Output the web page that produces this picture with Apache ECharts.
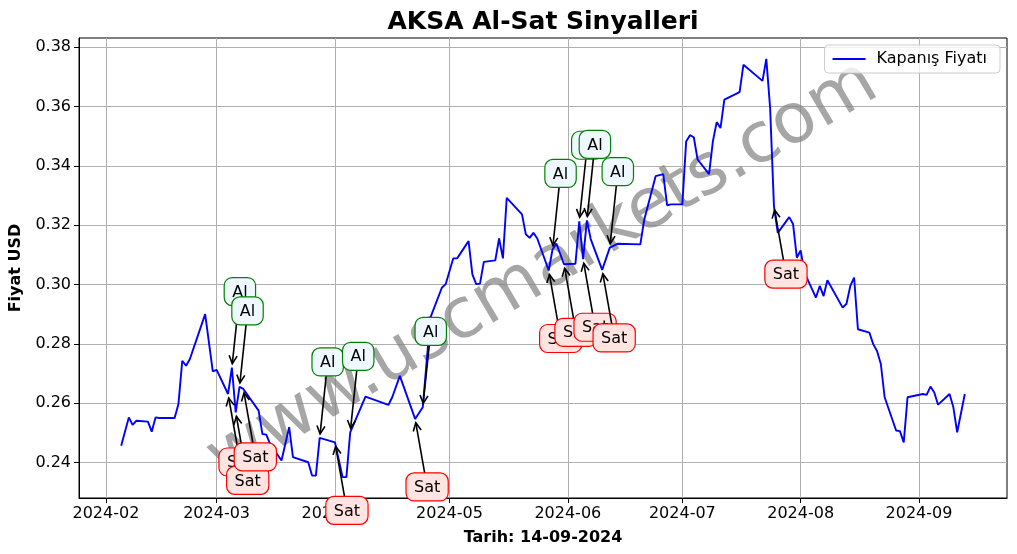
<!DOCTYPE html>
<html><head><meta charset="utf-8">
<script src="https://cdn.jsdelivr.net/npm/echarts@6/dist/echarts.min.js"></script>
<style>html,body{margin:0;padding:0;background:#fff}#c{width:1017px;height:554px}</style>
</head><body><div id="c"></div>
<script>
// ---- data ----
const dates = [
'2024-02-05','2024-02-07','2024-02-08','2024-02-09','2024-02-12','2024-02-13','2024-02-14','2024-02-15','2024-02-19','2024-02-20',
'2024-02-21','2024-02-22','2024-02-23','2024-02-27','2024-02-29','2024-03-01','2024-03-04','2024-03-05','2024-03-06','2024-03-07',
'2024-03-08','2024-03-12','2024-03-13','2024-03-14','2024-03-15','2024-03-18','2024-03-20','2024-03-21','2024-03-25','2024-03-26',
'2024-03-27','2024-03-28','2024-04-01','2024-04-03','2024-04-04','2024-04-05','2024-04-09','2024-04-15','2024-04-16','2024-04-18',
'2024-04-22','2024-04-24','2024-04-26','2024-04-29','2024-04-30','2024-05-02','2024-05-03','2024-05-06','2024-05-07','2024-05-08',
'2024-05-09','2024-05-10','2024-05-13','2024-05-14','2024-05-15','2024-05-16','2024-05-20','2024-05-21','2024-05-22','2024-05-23',
'2024-05-24','2024-05-27','2024-05-28','2024-05-29','2024-05-31','2024-06-03','2024-06-04','2024-06-05','2024-06-06','2024-06-07',
'2024-06-10','2024-06-12','2024-06-14','2024-06-20','2024-06-21','2024-06-24','2024-06-26','2024-06-27','2024-06-28','2024-07-01',
'2024-07-02','2024-07-03','2024-07-04','2024-07-05','2024-07-08','2024-07-09','2024-07-10','2024-07-11','2024-07-12','2024-07-16',
'2024-07-17','2024-07-22','2024-07-23','2024-07-24','2024-07-25','2024-07-26','2024-07-29','2024-07-30','2024-07-31','2024-08-01',
'2024-08-02','2024-08-05','2024-08-06','2024-08-07','2024-08-08','2024-08-12','2024-08-13','2024-08-14','2024-08-15','2024-08-16',
'2024-08-19','2024-08-20','2024-08-21','2024-08-22','2024-08-23','2024-08-26','2024-08-27','2024-08-28','2024-08-29','2024-09-02',
'2024-09-03','2024-09-04','2024-09-05','2024-09-06','2024-09-09','2024-09-10','2024-09-11','2024-09-13'
];
const closes = [
0.2457,0.2552,0.2527,0.2541,0.2538,0.2504,0.2552,0.2550,0.2550,0.2597,
0.2743,0.2726,0.2749,0.2900,0.2707,0.2712,0.2631,0.2720,0.2569,0.2655,
0.2648,0.2575,0.2496,0.2494,0.2463,0.2407,0.2519,0.2418,0.2401,0.2356,
0.2356,0.2483,0.2468,0.2351,0.2351,0.2502,0.2622,0.2594,0.2620,0.2692,
0.2547,0.2586,0.2888,0.2989,0.3001,0.3088,0.3088,0.3146,0.3034,0.3001,
0.3003,0.3076,0.3081,0.3155,0.3088,0.3292,0.3236,0.3169,0.3157,0.3174,
0.3155,0.3047,0.3118,0.3138,0.3068,0.3070,0.3213,0.3085,0.3216,0.3153,
0.3049,0.3124,0.3137,0.3135,0.3217,0.3365,0.3372,0.3267,0.3270,0.3270,
0.3482,0.3503,0.3496,0.3421,0.3372,0.3482,0.3547,0.3527,0.3623,0.3648,
0.3740,0.3686,0.3760,0.3594,0.3264,0.3174,0.3227,0.3204,0.3090,0.3115,
0.3040,0.2956,0.2995,0.2961,0.3014,0.2922,0.2935,0.2995,0.3023,0.2849,
0.2838,0.2799,0.2776,0.2732,0.2620,0.2508,0.2506,0.2468,0.2620,0.2631,
0.2628,0.2656,0.2636,0.2595,0.2631,0.2586,0.2502,0.2631
];
const buyDates  = ['2024-03-05','2024-03-07','2024-03-28','2024-04-05','2024-04-24','2024-05-28','2024-06-04','2024-06-06','2024-06-12'];
const sellDates = ['2024-03-04','2024-03-06','2024-03-08','2024-04-01','2024-04-22','2024-05-27','2024-05-31','2024-06-05','2024-06-10','2024-07-25'];
const xTickDates = ['2024-02-01','2024-03-01','2024-04-01','2024-05-01','2024-06-01','2024-07-01','2024-08-01','2024-09-01'];
const yTicks = [0.24,0.26,0.28,0.30,0.32,0.34,0.36,0.38];
const titleText = 'AKSA Al-Sat Sinyalleri';
const xName = 'Tarih: 14-09-2024';
const yName = 'Fiyat USD';
const seriesName = 'Kapanış Fiyatı';
const watermark = 'www.uscmarkets.com';

// ---- build ----
const ts = s => Date.parse(s + 'T00:00:00Z');
const lineData = dates.map((d, i) => [ts(d), closes[i]]);
const priceOf = d => closes[dates.indexOf(d)];
const annData = [];
buyDates.forEach(d => annData.push([ts(d), priceOf(d), 1]));
sellDates.forEach(d => annData.push([ts(d), priceOf(d), 0]));

const tMin = ts(dates[0]), tMax = ts(dates[dates.length - 1]);
const xPad = (tMax - tMin) * 0.05;
const vMin = Math.min(...closes), vMax = Math.max(...closes);
const yPad = (vMax - vMin) * 0.05;

const FONT = '"DejaVu Sans", sans-serif';
const mctx = document.createElement('canvas').getContext('2d');
mctx.font = '16px ' + FONT;

const GRID = {left: 77, right: 10, top: 38, bottom: 56};
const plotCenterX = GRID.left + (1017 - GRID.left - GRID.right) / 2;

const chart = echarts.init(document.getElementById('c'), null, {renderer: 'canvas'});
chart.setOption({
  animation: false,
  backgroundColor: '#fff',
  textStyle: {fontFamily: FONT},
  title: {
    text: titleText, left: plotCenterX - 4, textAlign: 'center', top: 5,
    textStyle: {fontFamily: FONT, fontSize: 25, fontWeight: 'bold', color: '#000'}
  },
  legend: {
    data: [seriesName], right: 17, top: 45, orient: 'vertical',
    icon: 'rect', itemWidth: 33, itemHeight: 2, itemGap: 0,
    padding: [6, 13, 6, 8],
    borderColor: '#cccccc', borderWidth: 1, borderRadius: 4,
    backgroundColor: 'rgba(255,255,255,0.8)',
    textStyle: {fontFamily: FONT, fontSize: 16, color: '#000', padding: [0, 0, 0, 6]}
  },
  grid: Object.assign({show: true, borderColor: '#000', borderWidth: 1, backgroundColor: 'transparent'}, GRID),
  graphic: [{
    type: 'text', x: 543, y: 272, rotation: 30.5 * Math.PI / 180, z: 1,
    style: {text: watermark, x: 0, y: 0, align: 'center', verticalAlign: 'middle',
      font: '70px ' + FONT, fill: 'rgba(128,128,128,0.7)'}
  }],
  xAxis: {
    type: 'value', min: tMin - xPad, max: tMax + xPad,
    name: xName, nameLocation: 'middle', nameGap: 32,
    nameTextStyle: {fontFamily: FONT, fontSize: 16, fontWeight: 'bold', color: '#000'},
    axisLine: {show: true, lineStyle: {color: '#000', width: 1}},
    axisTick: {show: true, length: 5, inside: false, lineStyle: {color: '#000'}, customValues: xTickDates.map(ts)},
    axisLabel: {customValues: xTickDates.map(ts), fontSize: 16, color: '#000', margin: 8, fontFamily: FONT,
      formatter: v => { const d = new Date(v); return d.getUTCFullYear() + '-' + String(d.getUTCMonth() + 1).padStart(2, '0'); }},
    splitLine: {show: true, lineStyle: {color: '#b0b0b0', width: 1}}
  },
  yAxis: {
    type: 'value', min: vMin - yPad, max: vMax + yPad,
    name: yName, nameLocation: 'middle', nameGap: 55, nameRotate: 90,
    nameTextStyle: {fontFamily: FONT, fontSize: 16, fontWeight: 'bold', color: '#000'},
    axisLine: {show: true, lineStyle: {color: '#000', width: 1}},
    axisTick: {show: true, length: 5, lineStyle: {color: '#000'}, customValues: yTicks},
    axisLabel: {customValues: yTicks, fontSize: 16, color: '#000', margin: 8, fontFamily: FONT,
      formatter: v => v.toFixed(2)},
    splitLine: {show: true, lineStyle: {color: '#b0b0b0', width: 1}}
  },
  series: [
    {
      name: seriesName, type: 'line', data: lineData, showSymbol: false, symbol: 'none',
      lineStyle: {color: '#0000ff', width: 1.9}, itemStyle: {color: '#0000ff'}, z: 3
    },
    {
      name: 'signals', type: 'custom', data: annData, z: 5, clip: false,
      encode: {x: 0, y: 1},
      renderItem: (params, api) => {
        const p = api.coord([api.value(0), api.value(1)]);
        const buy = api.value(2) === 1;
        const text = buy ? 'Al' : 'Sat';
        const cx = p[0] + (buy ? 8 : 12);
        const cy = p[1] + (buy ? -76 : 68);
        const w = mctx.measureText(text).width + 16, h = 28;
        const dx = p[0] - cx, dy = p[1] - cy, L = Math.hypot(dx, dy);
        const ux = dx / L, uy = dy / L;
        const tx = p[0] - ux * 4, ty = p[1] - uy * 4;
        const hl = 8, hw = 4;
        const bx = tx - ux * hl, by = ty - uy * hl;
        return {
          type: 'group',
          children: [
            {type: 'line', shape: {x1: cx, y1: cy, x2: tx, y2: ty}, style: {stroke: '#000', lineWidth: 1.6}},
            {type: 'polyline', shape: {points: [[bx - uy * hw, by + ux * hw], [tx, ty], [bx + uy * hw, by - ux * hw]]},
              style: {stroke: '#000', lineWidth: 1.6, fill: null}},
            {type: 'rect', shape: {x: cx - w / 2, y: cy - h / 2, width: w, height: h, r: 8},
              style: {fill: buy ? '#f0f8ff' : '#ffe4e1', stroke: buy ? '#008000' : '#ff0000', lineWidth: 1.2}},
            {type: 'text', style: {x: cx, y: cy + 1, text: text, align: 'center', verticalAlign: 'middle',
              font: '16px ' + FONT, fill: '#000'}}
          ]
        };
      }
    }
  ]
});
</script>
</body></html>
